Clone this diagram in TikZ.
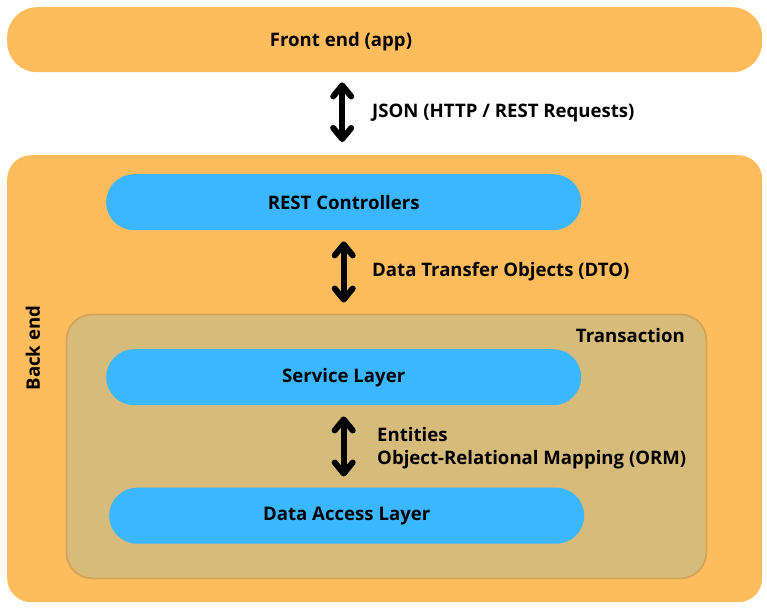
\documentclass[tikz,border=0pt]{standalone}
\usepackage{fontspec}
\setmainfont{Open Sans}
\usetikzlibrary{arrows.meta,calc}
\definecolor{orangebg}{HTML}{FFBC5C}
\definecolor{bluebox}{HTML}{3AB7FF}
\definecolor{tanbox}{HTML}{D7BB7B}
\definecolor{tanedge}{HTML}{D2A458}
\begin{document}
\begin{tikzpicture}[x=1pt,y=-1pt,
  lbl/.style={font=\fontsize{18.6}{22}\selectfont\bfseries, text=black, inner sep=0pt},
  outerbox/.style={fill=orangebg, draw=none},
  pill/.style={fill=bluebox, draw=none, rounded corners=28pt, minimum width=475pt, minimum height=56pt, inner sep=0pt, font=\fontsize{18.6}{22}\selectfont\bfseries},
  dblarrow/.style={line width=6pt, {Straight Barb[length=11pt,width=18pt,round]}-{Straight Barb[length=11pt,width=18pt,round]}}
]
\useasboundingbox (0,0) rectangle (767,607);
\fill[white] (0,0) rectangle (767,607);
% Front end
\node[outerbox, rounded corners=30pt, minimum width=755pt, minimum height=65pt, inner sep=0pt, anchor=north west] (front) at (7,7) {};
\node[lbl] (frontlbl) at (341,41.5) {Front end (app)};
% Back end
\node[outerbox, rounded corners=24pt, minimum width=755pt, minimum height=447pt, inner sep=0pt, anchor=north west] (backend) at (7,155) {};
\node[lbl, rotate=90] (backlbl) at (33,348) {Back end};
% Transaction
\node[fill=tanbox, draw=tanedge, line width=1.8pt, rounded corners=26pt, minimum width=640pt, minimum height=264pt, inner sep=0pt, anchor=north west] (trans) at (65.5,313.5) {};
\node[lbl, anchor=base east] (translbl) at (685,342.5) {Transaction};
% Pills
\node[pill, anchor=north west] (restc) at (106,174) {REST Controllers};
\node[pill, anchor=north west] (service) at (106,349) {Service Layer};
\node[pill, anchor=north west] (data) at (109,487.5) {Data Access Layer};
% Arrows
\draw[dblarrow, shorten <=10pt, shorten >=13pt] (front.south -| restc.north) ++(-1.5,0) coordinate (a1s) -- (a1s |- backend.north);
\draw[dblarrow, shorten <=11pt, shorten >=11pt] (restc.south) -- (restc.south |- trans.north);
\draw[dblarrow, shorten <=11pt, shorten >=11pt] (service.south) -- (service.south |- data.north);
% Labels
\node[lbl, anchor=west] (jsonlbl) at (372,112.5) {JSON (HTTP / REST Requests)};
\node[lbl, anchor=west] (dtolbl) at (372,271.5) {Data Transfer Objects (DTO)};
\node[lbl, anchor=west] (entlbl) at (377,434.5) {Entities};
\node[lbl, anchor=west] (ormlbl) at (377,459.5) {Object-Relational Mapping (ORM)};
\end{tikzpicture}
\end{document}
